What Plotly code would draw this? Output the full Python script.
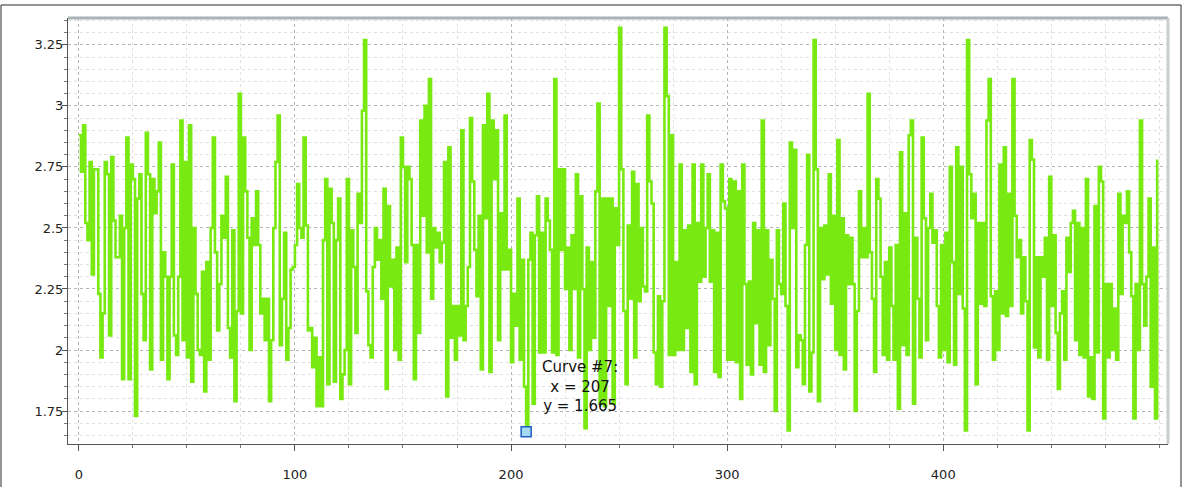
import plotly.graph_objects as go

# Curve #7 samples, stored in consecutive blocks (index 0 .. 499)
samples_000_039 = [2.88, 2.73, 2.92, 2.52, 2.45, 2.77, 2.31, 2.74, 2.74, 2.23,
                   1.97, 2.15, 2.77, 2.72, 2.06, 2.79, 2.53, 2.38, 2.38, 2.55,
                   1.88, 2.50, 2.87, 1.88, 2.76, 2.70, 1.73, 2.62, 2.72, 2.23,
                   2.04, 2.89, 2.72, 1.92, 2.70, 2.56, 2.65, 2.85, 1.96, 2.40]
samples_040_081 = [2.30, 1.88, 2.30, 2.76, 2.06, 1.98, 2.30, 2.94, 2.04, 2.77,
                   1.97, 2.92, 1.87, 2.50, 2.23, 2.00, 1.98, 2.32, 1.83, 2.36,
                   1.96, 2.50, 2.87, 2.40, 2.08, 2.27, 2.55, 2.46, 2.71, 2.09,
                   1.97, 2.49, 1.79, 2.16, 3.05, 2.15, 2.87, 2.65, 2.46, 2.00,
                   2.54, 2.43]
samples_082_123 = [2.65, 2.43, 2.15, 2.21, 2.04, 2.21, 1.79, 2.04, 2.50, 2.77,
                   2.96, 2.02, 2.21, 2.48, 1.96, 2.09, 2.33, 2.34, 2.43, 2.68,
                   2.50, 2.46, 2.87, 2.51, 2.08, 2.09, 1.93, 2.05, 1.77, 1.97,
                   1.77, 2.45, 2.70, 1.86, 2.66, 2.52, 1.87, 2.45, 2.62, 1.80,
                   1.90, 2.00]
samples_124_165 = [2.70, 1.86, 2.49, 2.34, 2.07, 2.64, 2.52, 2.98, 3.27, 2.24,
                   2.02, 1.97, 2.34, 2.50, 2.37, 2.45, 2.21, 2.66, 1.84, 2.59,
                   2.26, 2.37, 2.00, 2.42, 1.96, 2.87, 2.75, 2.36, 2.75, 2.70,
                   2.43, 1.88, 2.43, 2.07, 2.94, 2.55, 3.00, 2.40, 3.11, 2.21,
                   2.50, 2.42]
samples_166_207 = [2.48, 2.36, 2.44, 2.77, 1.81, 2.83, 2.05, 2.18, 1.96, 2.18,
                   2.06, 2.90, 2.04, 2.18, 2.34, 2.95, 2.69, 2.41, 2.22, 2.55,
                   1.92, 2.92, 2.54, 3.05, 1.91, 2.94, 2.70, 2.90, 2.04, 2.56,
                   2.33, 2.96, 2.33, 2.41, 1.95, 2.23, 2.10, 2.62, 1.96, 2.37,
                   1.85, 1.665]
samples_208_249 = [2.37, 2.48, 1.78, 2.47, 2.63, 1.99, 2.48, 1.99, 2.62, 2.53,
                   2.41, 1.99, 3.11, 1.98, 2.74, 2.41, 2.74, 2.25, 2.42, 2.00,
                   2.47, 2.25, 2.72, 1.97, 2.63, 2.25, 1.68, 2.42, 2.00, 2.36,
                   2.05, 2.65, 3.01, 1.78, 2.62, 1.77, 2.62, 2.18, 2.62, 1.78,
                   2.58, 2.43]
samples_250_291 = [3.32, 2.74, 2.16, 1.86, 2.51, 2.21, 2.73, 1.97, 2.68, 2.20,
                   2.50, 2.26, 2.24, 2.96, 2.69, 2.60, 1.99, 1.86, 2.22, 1.85,
                   2.20, 3.32, 3.04, 1.98, 2.88, 1.98, 2.36, 2.00, 2.76, 2.00,
                   2.49, 2.09, 2.51, 1.91, 2.76, 1.86, 2.52, 2.28, 2.76, 2.30,
                   2.50, 2.72]
samples_292_333 = [2.28, 2.49, 1.91, 2.48, 1.89, 2.76, 2.61, 2.58, 1.96, 2.70,
                   1.96, 2.69, 1.95, 2.65, 1.80, 2.76, 2.27, 1.94, 2.28, 1.90,
                   2.52, 2.11, 2.49, 1.94, 2.94, 1.91, 2.49, 2.02, 2.37, 2.21,
                   1.75, 2.49, 2.27, 2.23, 2.60, 2.18, 1.67, 2.85, 2.50, 2.82,
                   1.93, 2.06]
samples_334_375 = [2.04, 1.86, 2.43, 2.80, 1.83, 1.99, 3.27, 2.74, 1.79, 2.50,
                   2.29, 2.51, 2.31, 2.72, 2.19, 2.55, 2.00, 2.86, 1.98, 2.54,
                   1.92, 2.47, 2.27, 2.46, 2.27, 1.75, 2.16, 2.65, 2.38, 2.50,
                   2.38, 3.05, 2.40, 2.21, 1.91, 2.70, 2.62, 2.30, 1.98, 2.36,
                   1.96, 2.42]
samples_376_417 = [2.18, 1.96, 2.43, 1.76, 2.81, 2.02, 2.56, 1.98, 2.88, 2.94,
                   1.78, 2.46, 2.21, 1.97, 2.87, 2.54, 2.04, 2.50, 2.64, 2.44,
                   2.49, 2.18, 1.97, 2.43, 2.00, 2.48, 1.95, 2.75, 2.36, 1.94,
                   2.83, 2.23, 2.75, 2.17, 1.67, 3.27, 2.72, 2.54, 2.64, 1.86,
                   2.52, 2.19]
samples_418_459 = [2.52, 2.18, 2.94, 3.11, 2.22, 1.96, 2.24, 2.00, 2.76, 2.15,
                   2.83, 2.14, 2.64, 2.18, 3.11, 2.55, 2.38, 2.45, 2.15, 2.38,
                   2.20, 1.67, 2.86, 2.78, 2.01, 2.38, 1.97, 2.38, 2.30, 2.46,
                   1.96, 2.71, 2.18, 2.47, 2.07, 1.84, 2.15, 2.24, 1.96, 2.46,
                   2.32, 2.52]
samples_460_499 = [2.57, 2.04, 2.52, 1.98, 2.50, 1.97, 2.70, 1.81, 1.97, 1.80,
                   2.59, 1.99, 2.75, 2.69, 1.72, 2.27, 1.97, 2.27, 2.00, 2.17,
                   1.96, 2.64, 2.23, 2.55, 2.52, 2.65, 2.40, 2.22, 1.72, 2.27,
                   2.00, 2.94, 2.27, 2.10, 2.30, 2.62, 1.85, 2.42, 1.72, 2.78]

curve7 = (samples_000_039 + samples_040_081 + samples_082_123 + samples_124_165
          + samples_166_207 + samples_208_249 + samples_250_291 + samples_292_333
          + samples_334_375 + samples_376_417 + samples_418_459 + samples_460_499)
sample_index = list(range(len(curve7)))

# picked point shown with the tracker label
picked_index = 207
picked_value = curve7[picked_index]

x_tick_vals = [0, 100, 200, 300, 400]
y_tick_vals = [1.75, 2.0, 2.25, 2.5, 2.75, 3.0, 3.25]
y_tick_text = ["1.75", "2", "2.25", "2.5", "2.75", "3", "3.25"]

# page geometry (pixels)
W, H = 1183, 487
ML, MR, MT, MB = 68, 15, 18, 43
PW, PH = W - ML - MR, H - MT - MB


def px_x(p):
    return (p - ML) / PW


def px_y(q):
    return (H - MB - q) / PH


GREEN = "rgb(120,234,18)"
FONT = "DejaVu Sans"

fig = go.Figure()
fig.add_trace(go.Scatter(
    x=sample_index, y=curve7, mode="lines",
    line=dict(color=GREEN, width=2.6, shape="hv"),
    hoverinfo="skip", showlegend=False,
))
fig.add_trace(go.Scatter(
    x=[picked_index], y=[picked_value], mode="markers",
    marker=dict(symbol="square", size=10, color="#a6d9f2",
                line=dict(color="#1f5fc0", width=1.5)),
    hoverinfo="skip", showlegend=False,
))
fig.add_annotation(
    x=picked_index, y=picked_value, showarrow=False,
    text=f"Curve #7:<br>x = {picked_index}<br>y = {picked_value:g}",
    xshift=54, yshift=45, align="center",
    font=dict(family=FONT, size=15, color="#111111"),
)

shapes = [
    # outer widget frame
    dict(type="rect", xref="paper", yref="paper",
         x0=px_x(1), x1=px_x(W - 2), y0=px_y(H + 20), y1=px_y(5),
         line=dict(color="#2a2a2a", width=1), fillcolor="rgba(0,0,0,0)",
         layer="below"),
    # canvas frame on top and right
    dict(type="line", xref="paper", yref="paper", x0=0, x1=1, y0=1, y1=1,
         line=dict(color="#a9b3b8", width=3), layer="above"),
    dict(type="line", xref="paper", yref="paper", x0=1, x1=1, y0=0, y1=1,
         line=dict(color="#c9d0d3", width=3), layer="above"),
]

fig.update_layout(
    width=W, height=H,
    margin=dict(l=ML, r=MR, t=MT, b=MB, pad=0),
    paper_bgcolor="white", plot_bgcolor="white",
    font=dict(family=FONT, size=13, color="#222222"),
    showlegend=False,
    shapes=shapes,
    xaxis=dict(
        range=[-5, 504], tickvals=x_tick_vals, automargin=False,
        showgrid=True, gridcolor="#b4b4b4", griddash="dot", gridwidth=1,
        zeroline=False, showline=True, linecolor="#555555", linewidth=1,
        ticks="outside", ticklen=6, tickcolor="#555555",
        ticklabelstandoff=12,
        minor=dict(dtick=25, showgrid=True, gridcolor="#e0e0e0",
                   griddash="dot", ticks="outside", ticklen=3,
                   tickcolor="#777777"),
    ),
    yaxis=dict(
        range=[1.615, 3.36], tickvals=y_tick_vals, ticktext=y_tick_text,
        automargin=False,
        showgrid=True, gridcolor="#b4b4b4", griddash="dot", gridwidth=1,
        zeroline=False, showline=True, linecolor="#555555", linewidth=1,
        ticks="outside", ticklen=5, tickcolor="#555555",
        ticklabelstandoff=-4,
        tickfont=dict(size=13),
        minor=dict(dtick=0.05, showgrid=True, gridcolor="#e0e0e0",
                   griddash="dot", ticks="outside", ticklen=3,
                   tickcolor="#777777"),
    ),
)

fig.write_html("out.html")
